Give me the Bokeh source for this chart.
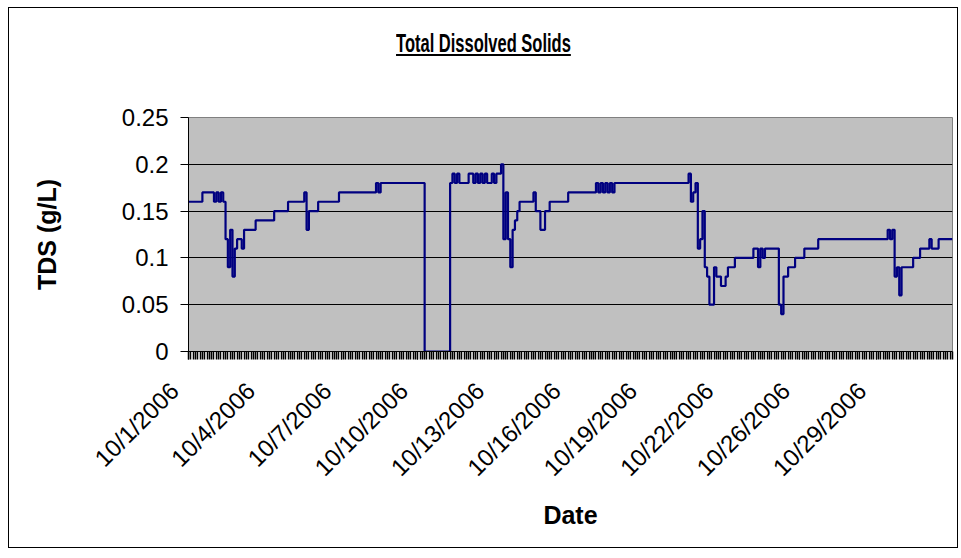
from math import pi
from bokeh.plotting import figure
from bokeh.models import Range1d, FixedTicker, Div
from bokeh.layouts import column
from bokeh.embed import file_html
from bokeh.resources import INLINE

# ---- data ----
title_text = "Total Dissolved Solids"
n_categories = 330
x_label_idx = [0, 33, 66, 99, 132, 165, 198, 231, 264, 297]
x_labels = ["10/1/2006", "10/4/2006", "10/7/2006", "10/10/2006", "10/13/2006",
            "10/16/2006", "10/19/2006", "10/22/2006", "10/26/2006", "10/29/2006"]
y_ticks = [0, 0.05, 0.1, 0.15, 0.2, 0.25]
y_tick_labels = ["0", "0.05", "0.1", "0.15", "0.2", "0.25"]

# step series: category index where a new TDS level starts, and that level (g/L)
step_idx = [0, 6, 11, 12, 13, 14, 15, 16, 17, 18, 19, 20, 21, 23, 24, 29, 37, 43, 50, 51,
            52, 56, 65, 81, 82, 83, 102, 113,
            114, 115, 116, 117, 121, 123, 124, 125, 126, 127, 128, 129, 131, 132, 133, 135,
            136, 137, 138, 139, 140, 141, 142, 143, 149, 150, 152, 154, 156, 164, 176, 177,
            178, 179, 180, 181, 182, 183, 184, 216, 217, 218, 219,
            220, 221, 222, 223, 224, 225, 227, 228, 230, 232, 233, 236, 244, 246, 247, 248,
            249, 255, 256, 257, 259, 262, 266, 272, 302, 303, 304, 305, 306, 307, 308, 313,
            316, 320, 321, 324, 330]
step_tds = [0.16, 0.17, 0.16, 0.17, 0.16, 0.17, 0.16, 0.12, 0.09, 0.13, 0.08, 0.11, 0.12, 0.11, 0.13, 0.14, 0.15, 0.16, 0.17, 0.13,
            0.15, 0.16, 0.17, 0.18, 0.17, 0.18, 0.0, 0.18,
            0.19, 0.18, 0.19, 0.18, 0.19, 0.18, 0.19, 0.18, 0.19, 0.18, 0.19, 0.18, 0.19, 0.18, 0.19, 0.20,
            0.12, 0.17, 0.12, 0.09, 0.13, 0.14, 0.15, 0.16, 0.17, 0.15, 0.13, 0.15, 0.16, 0.17, 0.18, 0.17,
            0.18, 0.17, 0.18, 0.17, 0.18, 0.17, 0.18, 0.19, 0.16, 0.17, 0.18,
            0.11, 0.12, 0.15, 0.09, 0.08, 0.05, 0.09, 0.08, 0.07, 0.08, 0.09, 0.10, 0.11, 0.09, 0.11, 0.10,
            0.11, 0.05, 0.04, 0.08, 0.09, 0.10, 0.11, 0.12, 0.13, 0.12, 0.13, 0.08, 0.09, 0.06, 0.09, 0.10,
            0.11, 0.12, 0.11, 0.12, 0.12]

FONT = "Liberation Sans"
PAD = "\u00a0\u00a0\u00a0"  # trailing spacing so the rotated labels sit left of their ticks

title_div = Div(
    text=('<div style="width:948px; text-align:center; padding-top:18px;">'
          '<span style="display:inline-block; transform:scaleX(0.66); '
          "font-family:'Liberation Sans',Arial,sans-serif; font-weight:bold; "
          'font-size:25px; color:black; text-decoration:underline; '
          'text-decoration-thickness:2px; text-underline-offset:2px;">'
          + title_text + '</span></div>'),
    width=948, height=95, margin=0,
)

p = figure(width=948, height=444,
           x_range=Range1d(0, n_categories), y_range=Range1d(0, 0.25),
           output_backend="svg", toolbar_location=None,
           min_border_left=179, min_border_right=5,
           min_border_top=14, min_border_bottom=196)
p.background_fill_color = "#C0C0C0"
p.border_fill_color = "white"
p.outline_line_color = "#808080"
p.outline_line_width = 1

p.step(step_idx, step_tds, mode="after", line_color="#000080", line_width=2.2)

# x axis
p.xaxis.ticker = FixedTicker(ticks=x_label_idx, minor_ticks=list(range(0, n_categories + 1)))
p.xaxis.major_label_overrides = {i: s + PAD for i, s in zip(x_label_idx, x_labels)}
p.xaxis.major_label_orientation = pi / 4
p.xaxis.major_tick_in = 0
p.xaxis.major_tick_out = 8
p.xaxis.minor_tick_in = 0
p.xaxis.minor_tick_out = 8
p.xaxis.minor_tick_line_color = "black"
p.xaxis.minor_tick_line_width = 1.5
p.xaxis.major_tick_line_color = "black"
p.xaxis.axis_line_color = "black"
p.xaxis.major_label_text_font = FONT
p.xaxis.major_label_text_font_size = "24px"
p.xaxis.major_label_text_color = "black"
p.xaxis.major_label_standoff = 13
p.xaxis.axis_label = "Date"
p.xaxis.axis_label_text_font = FONT
p.xaxis.axis_label_text_font_size = "25px"
p.xaxis.axis_label_text_font_style = "bold"
p.xaxis.axis_label_text_color = "black"
p.xaxis.axis_label_standoff = 7

# y axis
p.yaxis.ticker = FixedTicker(ticks=y_ticks)
p.yaxis.major_label_overrides = {t: s for t, s in zip(y_ticks, y_tick_labels)}
p.yaxis.major_tick_in = 0
p.yaxis.major_tick_out = 8
p.yaxis.minor_tick_line_color = None
p.yaxis.major_tick_line_color = "black"
p.yaxis.axis_line_color = "black"
p.yaxis.major_label_text_font = FONT
p.yaxis.major_label_text_font_size = "24px"
p.yaxis.major_label_text_color = "black"
p.yaxis.major_label_standoff = 12
p.yaxis.axis_label = "TDS (g/L)"
p.yaxis.axis_label_text_font = FONT
p.yaxis.axis_label_text_font_size = "25px"
p.yaxis.axis_label_text_font_style = "bold"
p.yaxis.axis_label_text_color = "black"
p.yaxis.axis_label_standoff = 58

p.xgrid.visible = False
p.ygrid.ticker = FixedTicker(ticks=y_ticks)
p.ygrid.grid_line_color = "black"
p.ygrid.grid_line_width = 1

layout = column(title_div, p, spacing=0)
layout.styles = {"border": "1px solid #000000", "margin": "7px 0 0 8px",
                 "background-color": "white"}

open("out.html", "w").write(file_html(layout, INLINE))
